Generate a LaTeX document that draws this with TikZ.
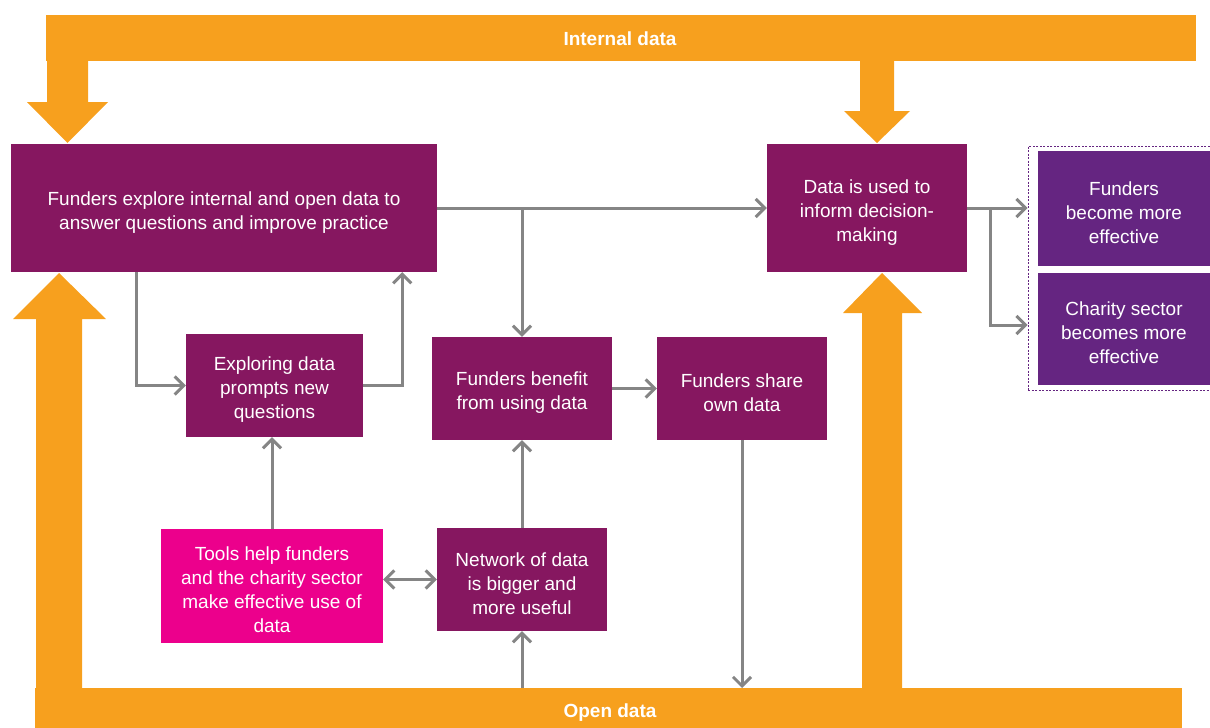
\documentclass[tikz,border=0pt]{standalone}
\usepackage{fontspec}
\setmainfont{Liberation Sans}
\usetikzlibrary{arrows.meta}
\definecolor{mag}{RGB}{134,23,96}
\definecolor{purp}{RGB}{101,37,129}
\definecolor{pinkc}{RGB}{236,0,140}
\definecolor{orng}{RGB}{247,160,30}
\definecolor{grayc}{RGB}{133,133,133}
\newcommand{\tstr}{\rule{0pt}{22pt}}
\tikzset{
  box/.style={rectangle, inner sep=0pt, text=white, align=center,
    font=\fontsize{19}{24}\selectfont},
  magbox/.style={box, fill=mag},
  purpbox/.style={box, fill=purp},
  pinkbox/.style={box, fill=pinkc},
  conn/.style={draw=grayc, line width=3pt, -{Straight Barb[length=9pt,width=18pt]}},
  conn2/.style={draw=grayc, line width=3pt, {Straight Barb[length=9pt,width=18pt]}-{Straight Barb[length=9pt,width=18pt]}},
  barlabel/.style={text=white, font=\fontsize{19}{24}\selectfont\bfseries, inner sep=0pt}
}
\begin{document}
\begin{tikzpicture}[x=1pt,y=-1pt]
\useasboundingbox (0,0) rectangle (1210,728);
% orange frame arrows
\fill[orng] (46,15) rectangle (1196,61);
\fill[orng] (47,61) -- (47,102) -- (27,102) -- (67.5,143) -- (108,102) -- (88,102) -- (88,61) -- cycle;
\fill[orng] (860,61) -- (860,111) -- (844,111) -- (877,143) -- (910,111) -- (894,111) -- (894,61) -- cycle;
\fill[orng] (35,688) rectangle (1182,728);
\fill[orng] (36,688) -- (36,319) -- (13,319) -- (59,273) -- (106,319) -- (82,319) -- (82,688) -- cycle;
\fill[orng] (862,688) -- (862,313) -- (843,313) -- (882,273) -- (922,313) -- (902,313) -- (902,688) -- cycle;
\coordinate (bot) at (608,688);
\node[barlabel] (toplab) at (620,39) {Internal data};
\node[barlabel] (botlab) at (610,713) {Open data};
% boxes
\node[magbox, minimum width=426, minimum height=128] (A) at (224,208)
  {\tstr Funders explore internal and open data to\\answer questions and improve practice};
\node[magbox, minimum width=200, minimum height=128] (B) at (867,208)
  {\tstr Data is used to\\inform decision-\\making};
\node[draw=purp, line width=0.8pt, dash pattern=on 2pt off 1.5pt, minimum width=184, minimum height=244, inner sep=0pt] (grp) at (1120,268) {};
\node[purpbox, minimum width=172, minimum height=115] (F1) at (1124,208.5)
  {\tstr Funders\\become more\\effective};
\node[purpbox, minimum width=172, minimum height=112] (F2) at (1124,329)
  {\tstr Charity sector\\becomes more\\effective};
\node[magbox, minimum width=177, minimum height=103] (C) at (274.5,385.5)
  {\tstr Exploring data\\prompts new\\questions};
\node[magbox, minimum width=180, minimum height=103] (D) at (522,388.5)
  {\tstr Funders benefit\\from using data};
\node[magbox, minimum width=170, minimum height=103] (E) at (742,388.5)
  {\tstr Funders share\\own data};
\node[pinkbox, minimum width=222, minimum height=114] (T) at (272,586)
  {\tstr Tools help funders\\and the charity sector\\make effective use of\\data};
\node[magbox, minimum width=170, minimum height=103] (N) at (522,579.5)
  {\tstr Network of data\\is bigger and\\more useful};
% connectors
\draw[conn] (A.east) -- (B.west);
\draw[conn] (A.east -| D.north) -- (D.north);
\draw[conn] ([xshift=126pt]A.south west) |- (C.west);
\draw[conn] (C.east) -| ([xshift=-35pt]A.south east);
\draw[conn] (D.east) -- (E.west);
\draw[conn] (E.south) -- (E.south |- bot);
\draw[conn] (N.south |- bot) -- (N.south);
\draw[conn] (N.north) -- (D.south);
\draw[conn2] (N.west -| T.east) -- (N.west);
\draw[conn] (T.north) -- (T.north |- C.south);
\draw[conn] (B.east) -- (B.east -| grp.west);
\draw[conn] ([xshift=23pt]B.east) |- ([yshift=4pt]F2.west -| grp.west);
\end{tikzpicture}
\end{document}
